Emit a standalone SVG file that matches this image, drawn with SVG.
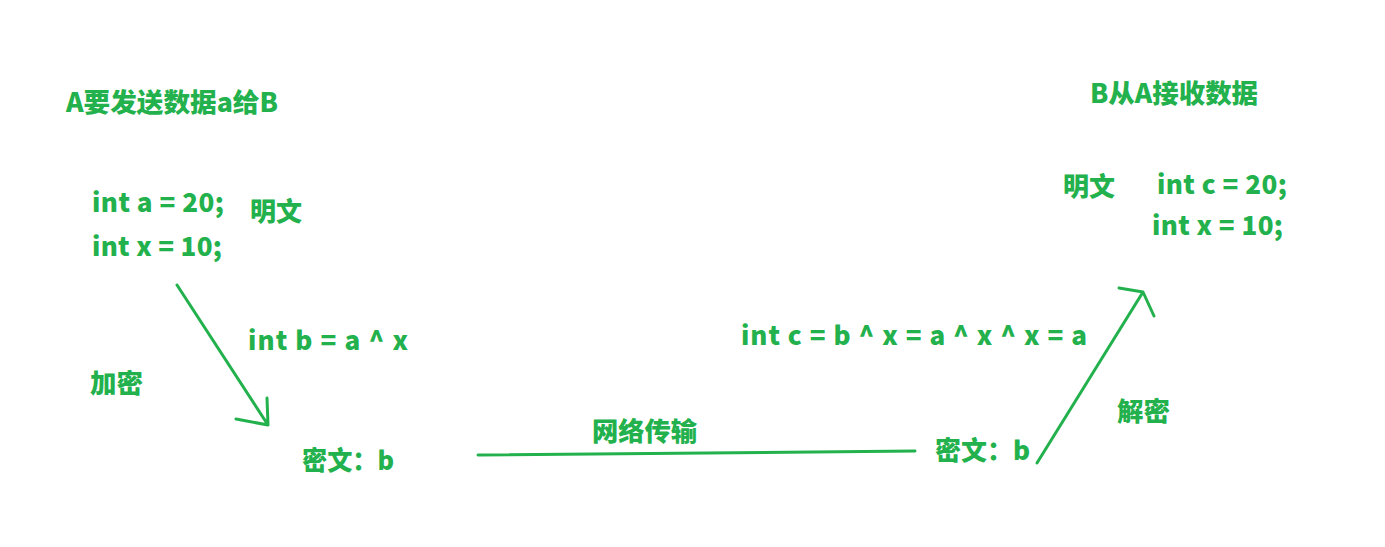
<svg xmlns="http://www.w3.org/2000/svg" width="1385" height="547" viewBox="0 0 1385 547">
<style>
text{font-family:"Microsoft YaHei","Noto Sans CJK SC","Noto Sans",sans-serif;font-weight:900;font-size:26px;fill:#22b14c}
.c{stroke:#22b14c;stroke-width:3;fill:none;stroke-linecap:round;stroke-linejoin:round}
</style>
<rect width="1385" height="547" fill="#fff"/>
<g id="sender-title"><text x="66" y="112" textLength="212" lengthAdjust="spacingAndGlyphs">A要发送数据a给B</text></g>
<g id="sender-code"><text x="92" y="212" textLength="132" lengthAdjust="spacing">int a = 20;</text><text x="92" y="256" textLength="130" lengthAdjust="spacing">int x = 10;</text></g>
<g id="sender-plain"><text x="250" y="221" textLength="52" lengthAdjust="spacingAndGlyphs">明文</text></g>
<g id="encrypt-formula"><text x="248" y="350" textLength="160" lengthAdjust="spacing">int b = a ^ x</text></g>
<g id="encrypt-label"><text x="90" y="393" textLength="53" lengthAdjust="spacingAndGlyphs">加密</text></g>
<g id="cipher-a"><text x="302" y="470" textLength="92" lengthAdjust="spacingAndGlyphs">密文：b</text></g>
<g id="network-label"><text x="592" y="441" textLength="105" lengthAdjust="spacingAndGlyphs">网络传输</text></g>
<g id="cipher-b"><text x="935" y="460" textLength="95" lengthAdjust="spacingAndGlyphs">密文：b</text></g>
<g id="decrypt-formula"><text x="741" y="345" textLength="346" lengthAdjust="spacing">int c = b ^ x = a ^ x ^ x = a</text></g>
<g id="decrypt-label"><text x="1117" y="421" textLength="53" lengthAdjust="spacingAndGlyphs">解密</text></g>
<g id="receiver-title"><text x="1090" y="103" textLength="168" lengthAdjust="spacingAndGlyphs">B从A接收数据</text></g>
<g id="receiver-plain"><text x="1063" y="196" textLength="52" lengthAdjust="spacingAndGlyphs">明文</text></g>
<g id="receiver-code"><text x="1157" y="194" textLength="130" lengthAdjust="spacing">int c = 20;</text><text x="1152" y="235" textLength="131" lengthAdjust="spacing">int x = 10;</text></g>
<g id="connectors">
<path class="c" d="M177,285 L268,425 M236,419 L268,425 L267,398"/>
<path class="c" d="M478,455 L915,451"/>
<path class="c" d="M1037,463 L1143,292 M1119,288 L1143,292 L1154,316"/>
</g>
</svg>
